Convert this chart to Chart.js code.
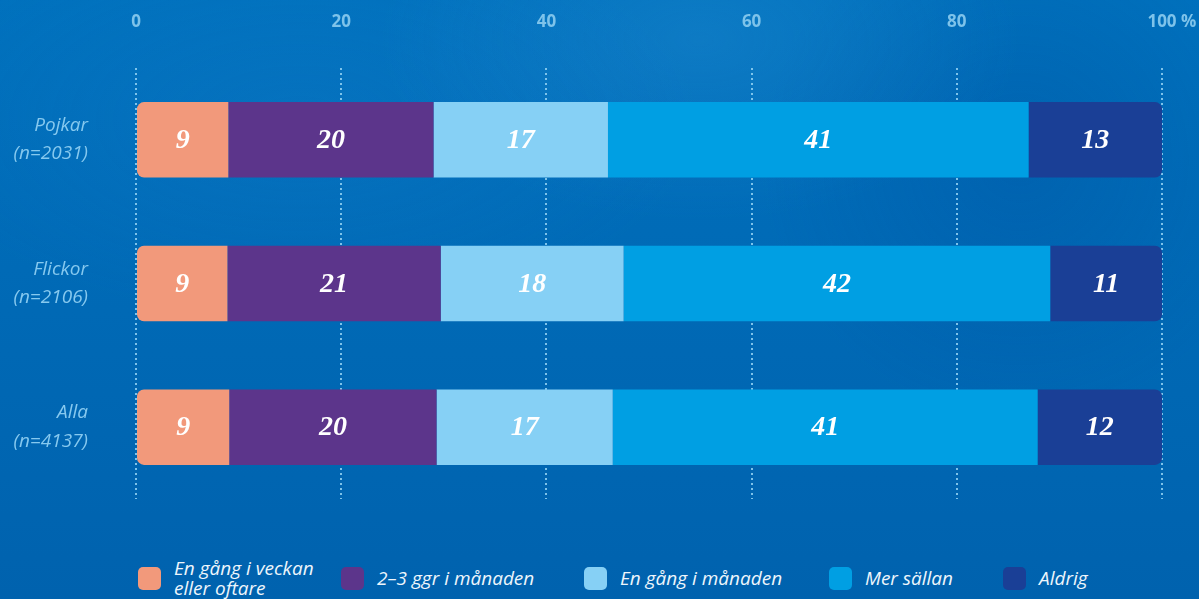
<!DOCTYPE html>
<html>
<head>
<meta charset="utf-8">
<script src="https://cdn.jsdelivr.net/npm/chart.js@4"></script>
<style>
    body {
        margin: 0;
        width: 1199px;
        height: 599px;
        overflow: hidden;
        background:
            radial-gradient(ellipse 320px 180px at 700px 40px, rgba(60, 160, 225, 0.22), transparent),
            radial-gradient(ellipse 260px 260px at 1020px 160px, rgba(0, 70, 150, 0.25), transparent),
            radial-gradient(ellipse 400px 200px at 300px 120px, rgba(30, 130, 210, 0.18), transparent),
            linear-gradient(180deg, #0071bd 0%, #006ab6 45%, #0062ae 100%);
        font-family: "Open Sans", Lato, sans-serif;
    }
    #wrap {
        position: absolute;
        left: 0;
        top: 0;
        width: 1199px;
        height: 520px;
    }
    #legend {
        position: absolute;
        left: 0;
        top: 558px;
        width: 1199px;
        height: 40px;
    }
    .item {
        position: absolute;
        top: 0;
        display: flex;
        align-items: center;
        height: 40px;
    }
    .box {
        width: 23px;
        height: 23px;
        border-radius: 5px;
        margin-right: 13px;
        flex: none;
    }
    .txt {
        color: #eef6fc;
        font-style: italic;
        font-size: 19px;
        line-height: 20px;
        white-space: nowrap;
    }
</style>
</head>
<body>
<div id="wrap"><canvas id="chart" width="1199" height="520"></canvas></div>
<div id="legend"></div>
<script>
// Rows and series
const categories = [['Pojkar', '(n=2031)'], ['Flickor', '(n=2106)'], ['Alla', '(n=4137)']];
const seriesNames = ['En gång i veckan\neller oftare', '2–3 ggr i månaden', 'En gång i månaden', 'Mer sällan', 'Aldrig'];
const weekly = [9, 9, 9];
const twoThreeMonthly = [20, 21, 20];
const monthly = [17, 18, 17];
const rarely = [41, 42, 41];
const never = [13, 11, 12];
const xTicks = [0, 20, 40, 60, 80, 100];

const colors = ['#f2997b', '#5c358b', '#86d0f5', '#009fe3', '#1a3f96'];
const legendLeft = [138, 341, 584, 829, 1003];

const series = [weekly, twoThreeMonthly, monthly, rarely, never];
// rounded numbers don't always add to 100, so bars are drawn as share of the row
const rowTotals = categories.map((c, j) => series.reduce((s, arr) => s + arr[j], 0));

const radius = 7;
const datasets = series.map((vals, i) => {
    let r = 0;
    if (i === 0) r = { topLeft: radius, bottomLeft: radius, topRight: 0, bottomRight: 0 };
    if (i === series.length - 1) r = { topLeft: 0, bottomLeft: 0, topRight: radius, bottomRight: radius };
    return {
        label: seriesNames[i],
        data: vals.map((v, j) => v / rowTotals[j] * 100),
        backgroundColor: colors[i],
        borderWidth: 0,
        borderSkipped: false,
        borderRadius: r,
        barPercentage: 0.525,
        categoryPercentage: 1
    };
});

// value labels in the middle of each segment
const segmentLabels = {
    id: 'segmentLabels',
    afterDatasetsDraw(chart) {
        const ctx = chart.ctx;
        ctx.save();
        ctx.fillStyle = '#ffffff';
        ctx.font = 'italic bold 28px "Liberation Serif", "DejaVu Serif", serif';
        ctx.textAlign = 'center';
        ctx.textBaseline = 'middle';
        chart.data.datasets.forEach((ds, i) => {
            chart.getDatasetMeta(i).data.forEach((bar, j) => {
                const p = bar.getProps(['x', 'base', 'y'], true);
                ctx.fillText(String(series[i][j]), (p.x + p.base) / 2, p.y + 1);
            });
        });
        ctx.restore();
    }
};

// the " %" after the last tick, keeping "100" centred on its line
const percentSign = {
    id: 'percentSign',
    afterDraw(chart) {
        const xs = chart.scales.x;
        const ctx = chart.ctx;
        ctx.save();
        ctx.font = 'bold 17px "Open Sans", sans-serif';
        ctx.fillStyle = '#7ec3ea';
        ctx.textBaseline = 'middle';
        ctx.textAlign = 'left';
        const px = xs.getPixelForValue(100);
        const w = ctx.measureText('100').width;
        let y = 22;
        const item = xs.getLabelItems().find(it => it.label === '100');
        if (item && typeof item.textOffset === 'number') {
            y = item.options.translation[1] + item.textOffset;
        }
        ctx.fillText(' %', px + w / 2, y);
        ctx.restore();
    }
};

const ctx = document.getElementById('chart').getContext('2d');
const chart = new Chart(ctx, {
    type: 'bar',
    data: {
        labels: categories,
        datasets: datasets
    },
    options: {
        indexAxis: 'y',
        responsive: false,
        animation: false,
        layout: {
            padding: { top: 0, left: 0, right: 37, bottom: 21 }
        },
        scales: {
            x: {
                position: 'top',
                stacked: true,
                min: 0,
                max: 100,
                afterBuildTicks: (scale) => {
                    scale.ticks = xTicks.map(v => ({ value: v }));
                },
                afterFit: (scale) => {
                    scale.height = 68;
                    scale.paddingLeft = 0;
                    scale.paddingRight = 0;
                },
                ticks: {
                    color: '#7ec3ea',
                    padding: 36,
                    font: { family: '"Open Sans", sans-serif', size: 17, weight: 'bold' },
                    callback: (v) => String(v)
                },
                grid: {
                    color: 'rgba(140, 205, 240, 0.9)',
                    lineWidth: 2,
                    drawTicks: false
                },
                border: {
                    display: false,
                    dash: [2, 3]
                }
            },
            y: {
                stacked: true,
                afterFit: (scale) => {
                    scale.width = 136;
                    scale.paddingTop = 0;
                    scale.paddingBottom = 0;
                },
                ticks: {
                    color: '#86c9ef',
                    padding: 48,
                    font: { family: '"Open Sans", Lato, sans-serif', size: 19, style: 'italic', lineHeight: 1.5 }
                },
                grid: { display: false, drawTicks: false },
                border: { display: false }
            }
        },
        plugins: {
            legend: { display: false },
            tooltip: { enabled: false }
        }
    },
    plugins: [segmentLabels, percentSign]
});

// legend below the chart
const legend = document.getElementById('legend');
seriesNames.forEach((name, i) => {
    const item = document.createElement('div');
    item.className = 'item';
    item.style.left = legendLeft[i] + 'px';
    const box = document.createElement('div');
    box.className = 'box';
    box.style.background = colors[i];
    const txt = document.createElement('div');
    txt.className = 'txt';
    txt.innerHTML = name.split('\n').join('<br>');
    item.appendChild(box);
    item.appendChild(txt);
    legend.appendChild(item);
});
</script>
</body>
</html>
